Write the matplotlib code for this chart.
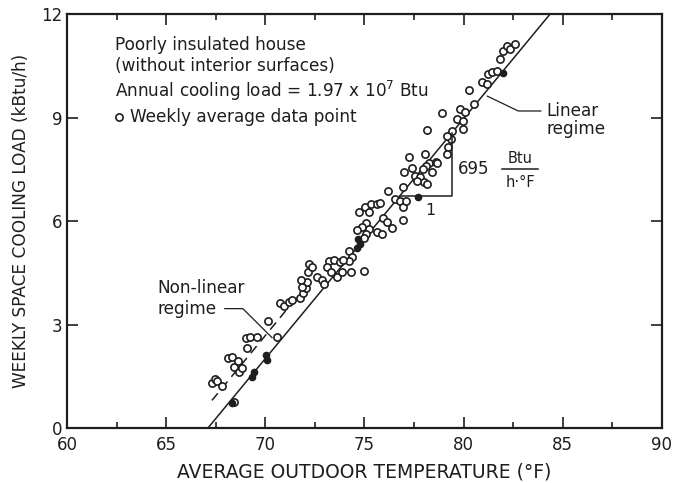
import matplotlib
matplotlib.use("Agg")
import matplotlib.pyplot as plt
import numpy as np

# Weekly averages: outdoor temperature (F) and space cooling load (kBtu/h)
temp_open = [67.32, 67.47, 67.58, 67.83, 68.13, 68.33, 68.43, 68.64, 68.69, 68.84,
             69.04, 69.24, 69.09, 69.55, 70.15, 70.56, 68.43, 70.71, 70.96, 71.21,
             71.36, 71.72, 71.92, 72.07, 72.12, 72.17, 72.22, 71.87, 71.82, 72.37,
             72.58, 72.83, 72.98, 73.23, 73.48, 73.74, 73.13, 73.33, 73.59, 73.84,
             74.34, 74.95, 74.24, 74.39, 74.24, 73.89, 75.10, 74.85, 74.60, 75.25,
             75.61, 75.86, 75.10, 75.00, 75.91, 76.16, 76.41, 76.92, 75.05, 75.35,
             75.61, 75.76, 75.25, 74.70, 76.21, 76.52, 76.77, 76.92, 77.07, 76.92,
             77.27, 78.03, 78.28, 78.59, 78.08, 77.93, 77.42, 76.97, 77.53, 77.78,
             77.98, 78.13, 77.63, 78.43, 78.64, 78.13, 79.19, 79.14, 79.44, 79.39,
             78.89, 79.80, 80.05, 79.65, 79.95, 79.95, 80.25, 80.51, 80.91, 81.16,
             81.21, 81.41, 81.67, 81.82, 81.97, 82.17, 82.32, 82.58, 79.14]
load_open = [1.31, 1.42, 1.37, 1.22, 2.03, 2.06, 1.77, 1.95, 1.63, 1.74,
             2.62, 2.65, 2.33, 2.65, 3.11, 2.65, 0.76, 3.63, 3.55, 3.66,
             3.72, 3.78, 3.90, 4.07, 4.24, 4.51, 4.74, 4.10, 4.30, 4.68,
             4.39, 4.30, 4.16, 4.83, 4.88, 4.80, 4.68, 4.51, 4.39, 4.51,
             4.53, 4.56, 5.12, 4.97, 4.83, 4.88, 5.93, 5.84, 5.73, 5.76,
             5.67, 5.61, 5.61, 5.52, 6.10, 5.96, 5.81, 6.02, 6.42, 6.48,
             6.48, 6.51, 6.25, 6.25, 6.86, 6.63, 6.57, 6.42, 6.57, 6.98,
             7.85, 7.94, 7.67, 7.70, 7.59, 7.50, 7.53, 7.41, 7.30, 7.27,
             7.12, 7.06, 7.15, 7.41, 7.67, 8.63, 8.14, 7.94, 8.60, 8.37,
             9.13, 9.24, 9.16, 8.95, 8.90, 8.66, 9.80, 9.39, 10.03, 9.97,
             10.26, 10.32, 10.35, 10.70, 10.93, 11.08, 10.99, 11.13, 8.46]

# Weeks lying on the linear fit
temp_filled = [68.33, 69.34, 69.44, 70.05, 70.10, 74.60, 74.65, 74.75, 77.68, 82.0]
load_filled = [0.73, 1.48, 1.63, 2.12, 1.98, 5.23, 5.47, 5.32, 6.69, 10.3]

# Linear regime: balance point and slope (695 Btu/h per F)
balance_temp = 67.1
slope = 0.695

# Non-linear regime (dashed)
dash_temp = [67.3, 71.6]
dash_load = [0.8, 3.8]

ink = "#1e1e1e"
note_size = 12.2
plt.rcParams["font.family"] = "DejaVu Sans"

fig = plt.figure(figsize=(6.75, 4.83), dpi=100)
ax = fig.add_axes([0.0997, 0.1139, 0.8806, 0.857])

t_line = np.array([balance_temp, balance_temp + 12 / slope])
ax.plot(t_line, slope * (t_line - balance_temp), color=ink, lw=1.1)
ax.plot(dash_temp, dash_load, color=ink, lw=1.1, dashes=(6, 4))

ax.plot(temp_open, load_open, "o", ms=5.2, mfc="white", mec=ink, mew=1.2)
ax.plot(temp_filled, load_filled, "o", ms=4.5, mfc=ink, mec=ink)

# slope triangle
tri_x0 = balance_temp + 6.72 / slope
tri_x1 = 79.4
ax.plot([tri_x0, tri_x1, tri_x1], [6.72, 6.72, slope * (tri_x1 - balance_temp)],
        color=ink, lw=1.1)
ax.text(78.3, 6.3, "1", fontsize=11.5, color=ink, ha="center", va="center")
ax.text(79.7, 7.5, "695", fontsize=12, color=ink, ha="left", va="center")
ax.text(82.85, 7.82, "Btu", fontsize=10.5, color=ink, ha="center", va="center")
ax.plot([81.95, 83.75], [7.5, 7.5], color=ink, lw=1.1)
ax.text(82.85, 7.13, "h·°F", fontsize=10.5, color=ink, ha="center", va="center")

# regime labels with leaders
ax.text(84.2, 9.19, "Linear", fontsize=note_size, color=ink, ha="left", va="center")
ax.text(84.2, 8.66, "regime", fontsize=note_size, color=ink, ha="left", va="center")
ax.plot([81.2, 82.76, 83.9], [9.62, 9.19, 9.19], color=ink, lw=0.9)

ax.text(64.55, 4.07, "Non-linear", fontsize=note_size, color=ink, ha="left", va="center")
ax.text(64.55, 3.46, "regime", fontsize=note_size, color=ink, ha="left", va="center")
ax.plot([67.95, 68.86, 70.33], [3.46, 3.46, 2.62], color=ink, lw=0.9)

# key block
ax.text(62.41, 11.10, "Poorly insulated house", fontsize=note_size, color=ink, va="center")
ax.text(62.41, 10.49, "(without interior surfaces)", fontsize=note_size, color=ink,
        va="center")
ax.text(62.41, 9.77, "Annual cooling load = 1.97 x 10$^7$ Btu", fontsize=note_size,
        color=ink, va="center")
ax.plot([62.62], [9.01], "o", ms=5.2, mfc="white", mec=ink, mew=1.2)
ax.text(63.17, 9.01, "Weekly average data point", fontsize=note_size, color=ink,
        va="center")

ax.set_xlim(60, 90)
ax.set_ylim(0, 12)
ax.set_xticks([60, 65, 70, 75, 80, 85, 90])
ax.set_xticks([62.5, 67.5, 72.5, 77.5, 82.5, 87.5], minor=True)
ax.set_yticks([0, 3, 6, 9, 12])
ax.tick_params(which="both", direction="in", top=True, right=True,
               colors=ink, labelsize=12, width=1.2)
ax.tick_params(which="major", length=8)
ax.tick_params(which="minor", length=4.5)
ax.tick_params(axis="x", pad=6)
for s in ax.spines.values():
    s.set_linewidth(1.6)
    s.set_color(ink)

ax.set_xlabel("AVERAGE OUTDOOR TEMPERATURE (°F)", fontsize=13.5, color=ink, labelpad=6)
ax.set_ylabel("WEEKLY SPACE COOLING LOAD (kBtu/h)", fontsize=12.2, color=ink, labelpad=8)

fig.savefig("out.png", dpi=100, facecolor="white")
